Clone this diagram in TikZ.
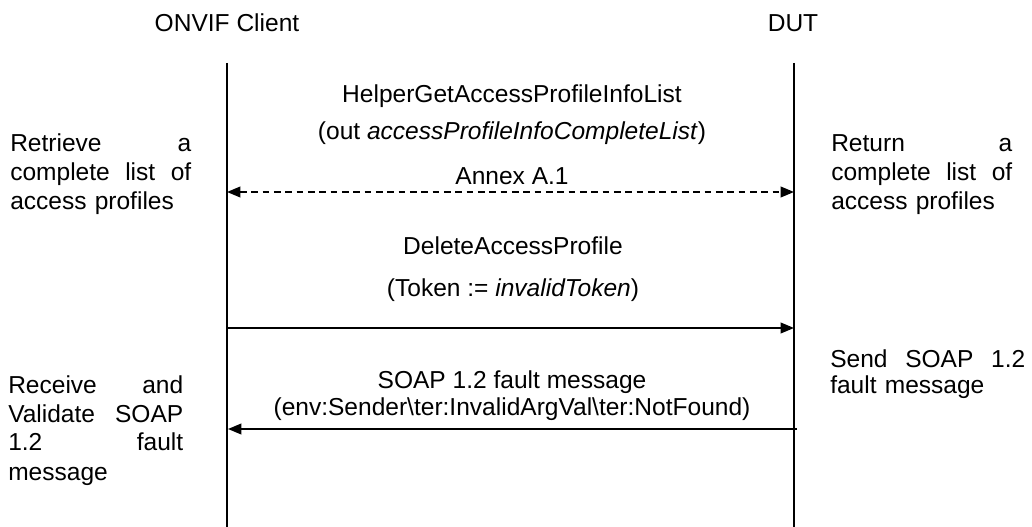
\documentclass[tikz,border=0pt]{standalone}
\usepackage{fontspec}
\setmainfont{Liberation Sans}
\usetikzlibrary{arrows.meta}
\begin{document}
\begin{tikzpicture}[x=0.75pt,y=-0.75pt,
  txt/.style={font=\fontsize{18.4}{21.75}\selectfont, inner sep=0pt},
  side/.style={txt, anchor=base west, align=left},
  msg/.style={txt, anchor=base},
  life/.style={line width=1.4pt},
  tip/.style={},
  arr/.style={line width=1.3pt, -{Triangle[length=10pt,width=8pt]}},
  darr/.style={line width=1.3pt, dash pattern=on 5pt off 3.5pt,
    {Triangle[length=10pt,width=8pt]}-{Triangle[length=10pt,width=8pt]}}
]
\useasboundingbox[fill=white] (0,0) rectangle (1032,527);

% titles
\node[msg] (client) at (227,32) {ONVIF Client};
\node[msg] (dut) at (793,32) {DUT};

% lifelines
\coordinate (cTop) at (227,63);
\coordinate (cBot) at (227,527);
\coordinate (dTop) at (794,63);
\coordinate (dBot) at (794,527);
\draw[life] (cTop) -- (cBot);
\draw[life] (dTop) -- (dBot);

% message texts
\node[msg] (m1a) at (512,103) {HelperGetAccessProfileInfoList};
\node[msg] (m1b) at (512,140) {(out \textit{accessProfileInfoCompleteList})};
\node[msg] (m1c) at (512,185) {Annex A.1};
\node[msg] (m2a) at (513,255) {DeleteAccessProfile};
\node[msg] (m2b) at (513,297) {(Token := \textit{invalidToken})};
\node[msg] (m3a) at (512,388) {SOAP 1.2 fault message};
\node[msg] (m3b) at (512,415) {(env:Sender\textbackslash ter:InvalidArgVal\textbackslash ter:NotFound)};

% arrows
\coordinate (cA1) at (227,192);
\coordinate (dA1) at (794,192);
\draw[darr] (cA1) -- (dA1);
\coordinate (cA2) at (227,328);
\coordinate (dA2) at (794,328);
\draw[arr] (cA2) -- (dA2);
\coordinate (dA3) at (797,429);
\coordinate (cA3) at (228,429);
\draw[arr] (dA3) -- (cA3);

% side notes
\node[side, text width=135.75pt] (lt) at (10,152)
  {Retrieve\hfill a\\complete\hfill list\hfill of\\access profiles};
\node[side, text width=135.75pt] (rt) at (831,152)
  {Return\hfill a\\complete\hfill list\hfill of\\access profiles};
\node[side, text width=131.25pt] (lb) at (8,393)
  {Receive\hfill and\\Validate\hfill SOAP\\1.2\hfill fault\\message};
\node[side, text width=146.25pt, font=\fontsize{18.4}{19.5}\selectfont] (rb) at (830,368)
  {Send\hfill SOAP\hfill 1.2\\fault message};
\end{tikzpicture}
\end{document}
